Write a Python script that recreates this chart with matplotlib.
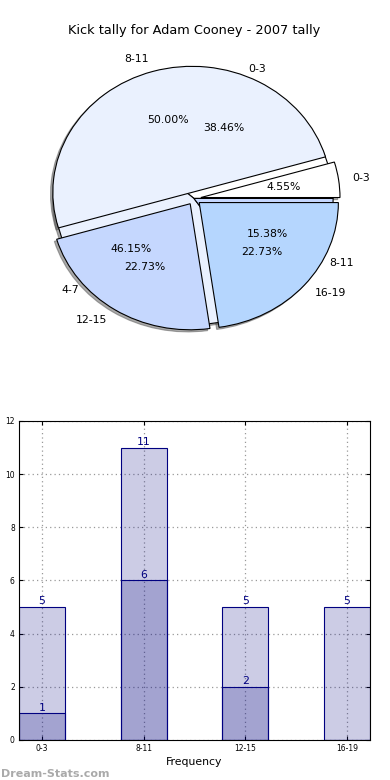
import numpy as np
import matplotlib.pyplot as plt

# outer pie (per-bin tally, 22 kicks)
pie_a_labels = ['0-3', '8-11', '12-15', '16-19']
pie_a_values = [1, 11, 5, 5]
# inner pie (drawn underneath)
pie_b_labels = ['0-3', '4-7', '8-11']
pie_b_values = [5, 6, 2]

bar_labels = ['0-3', '8-11', '12-15', '16-19']
bar_total = [5, 11, 5, 5]
bar_part = [1, 6, 2, 0]

pie_colors = ['#ffffff', '#eaf1fe', '#c5d7fe', '#b5d6fe']

fig = plt.figure(figsize=(3.9, 7.8), dpi=100)

# pie chart
ax1 = fig.add_axes([0.0513, 0.5436, 0.892, 0.404])
wp = dict(edgecolor='black', linewidth=0.8)
shd = dict(ox=-0.012, oy=-0.012, color='#555555')
ax1.pie(pie_b_values, labels=pie_b_labels, colors=pie_colors, autopct='%1.2f%%',
        shadow=shd, wedgeprops=wp, textprops=dict(fontsize=7.8))
ax1.pie(pie_a_values, labels=pie_a_labels, colors=pie_colors, autopct='%1.2f%%',
        explode=[0.05] * 4, shadow=shd, wedgeprops=wp, textprops=dict(fontsize=7.8))
ax1.set_aspect('auto')
ax1.set_xlim(-1.25, 1.25)
ax1.set_ylim(-1.25, 1.25)
ax1.set_title('Kick tally for Adam Cooney - 2007 tally', fontsize=9.3, pad=5)

# bar chart
ax2 = fig.add_axes([0.0487, 0.0513, 0.9, 0.409])
x = np.arange(len(bar_labels))
w = 0.45
fc = (0, 0, 0.5, 0.2)
ax2.bar(x, bar_total, w, facecolor=fc, edgecolor='navy', linewidth=0.8, zorder=2)
ax2.bar(x, bar_part, w, facecolor=fc, edgecolor='navy', linewidth=0.8, zorder=2)
for xi, v in zip(x, bar_total):
    ax2.text(xi, v + 0.03, str(v), ha='center', va='bottom', color='navy', fontsize=7.8)
for xi, v in zip(x, bar_part):
    if v > 0:
        ax2.text(xi, v + 0.03, str(v), ha='center', va='bottom', color='navy', fontsize=7.8)
ax2.set_xlim(-w / 2, len(x) - 1 + w / 2)
ax2.set_ylim(0, 12)
ax2.set_xticks(x)
ax2.set_xticklabels(bar_labels)
ax2.set_yticks(range(0, 13, 2))
ax2.tick_params(direction='in', top=True, right=True, labelsize=5.5, length=3, pad=3)
ax2.grid(True, linestyle=(0, (1, 2.5)), color='#999999', linewidth=0.9, zorder=0)
ax2.set_axisbelow(True)
ax2.set_xlabel('Frequency', fontsize=7.8, labelpad=3)

fig.text(0.002, 0.004, 'Dream-Stats.com', color='#aaaaaa', fontsize=8, fontweight='bold')

fig.savefig('out.png', dpi=100)
